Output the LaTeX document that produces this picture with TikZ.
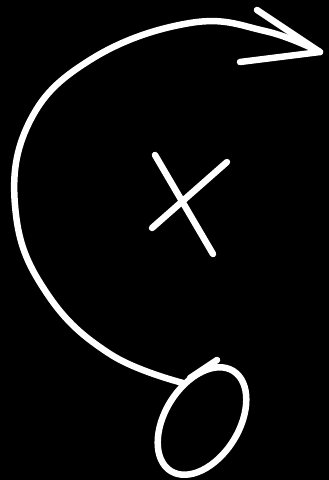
\documentclass[tikz,border=0pt]{standalone}
\usetikzlibrary{shapes.geometric}
\begin{document}
\begin{tikzpicture}[x=1pt,y=-1pt,
  chalk/.style={draw=white,line width=6.5pt,line cap=round,line join=round}]
\fill[black] (0,0) rectangle (329,480);
\useasboundingbox (0,0) rectangle (329,480);
\coordinate (start) at (183,383);
\coordinate (tip) at (320,52);
\draw[chalk] plot[smooth,tension=0.7] coordinates {(start) (110,354) (48,295) (16,215) (28,125) (90,60) (190,23) (265,31) (tip)};
\draw[chalk] (257,10) -- (tip) -- (240,62);
% X
\draw[chalk] (155,155) -- (213,254);
\draw[chalk] (227,162) -- (152,228);
% O
\node[draw=white,line width=6.5pt,ellipse,minimum width=118pt,minimum height=74pt,rotate=58,inner sep=0pt] (o) at (202,421) {};
\draw[chalk] (217,360) -- (190,378);
\end{tikzpicture}
\end{document}
